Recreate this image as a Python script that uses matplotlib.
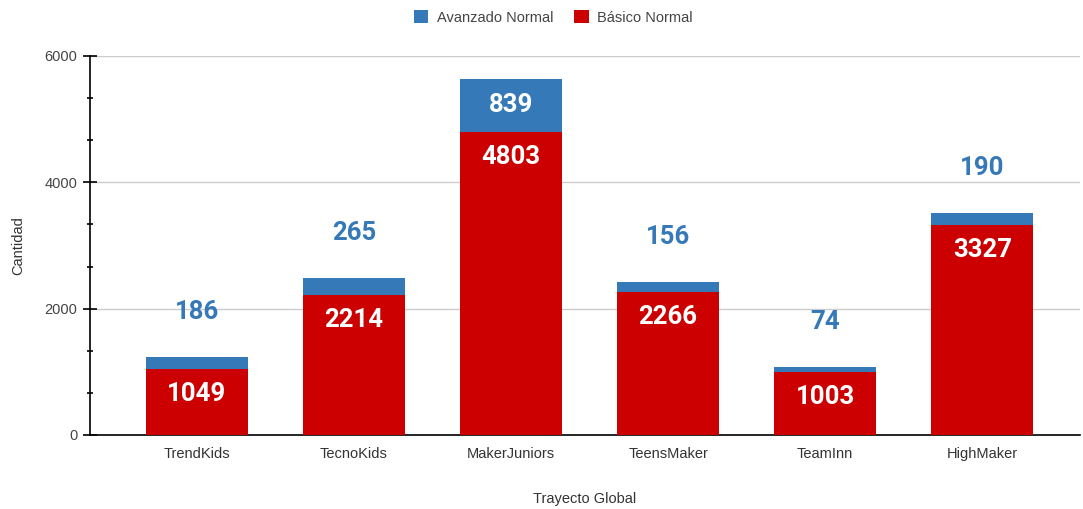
import matplotlib.pyplot as plt
import numpy as np
from matplotlib.ticker import MultipleLocator

categories = ['TrendKids', 'TecnoKids', 'MakerJuniors', 'TeensMaker', 'TeamInn', 'HighMaker']
basico = [1049, 2214, 4803, 2266, 1003, 3327]
avanzado = [186, 265, 839, 156, 74, 190]

blue = '#3579b8'
red = '#cc0000'

plt.rcParams['font.family'] = ['Liberation Sans', 'DejaVu Sans']

fig = plt.figure(figsize=(10.83, 5.09), dpi=100)
ax = fig.add_axes([0.083, 0.1454, 0.914, 0.7446])

x = np.arange(len(categories))
w = 0.65
ax.bar(x, basico, w, color=red, label='Básico Normal', zorder=3)
ax.bar(x, avanzado, w, bottom=basico, color=blue, label='Avanzado Normal', zorder=3)

# px -> data: 6000 units over ~379 px
px = 6000 / 379.0
for i in range(len(categories)):
    ax.text(x[i], basico[i] - 25 * px, str(basico[i]), ha='center', va='center',
            color='white', fontsize=18.5, fontweight='bold', family='Roboto', zorder=4)
    top = basico[i] + avanzado[i]
    if avanzado[i] * 1.0 / px > 35:
        ax.text(x[i], basico[i] + avanzado[i] / 2, str(avanzado[i]), ha='center', va='center',
                color='white', fontsize=18.5, fontweight='bold', family='Roboto', zorder=4)
    else:
        ax.text(x[i], top + 45 * px, str(avanzado[i]), ha='center', va='center',
                color=blue, fontsize=18.5, fontweight='bold', family='Roboto', zorder=4)

ax.set_xlim(-0.68, 5.62)
ax.set_ylim(0, 6000)
ax.set_xticks(x)
ax.set_xticklabels(categories, fontsize=10.5, color='#333333')
ax.set_yticks([0, 2000, 4000, 6000])
ax.yaxis.set_minor_locator(MultipleLocator(2000 / 3))
ax.tick_params(axis='y', which='major', direction='inout', length=10, width=1.2,
               labelsize=10.5, labelcolor='#444444', pad=4)
ax.tick_params(axis='y', which='minor', direction='inout', length=4.5, width=1.2)
ax.tick_params(axis='x', length=0, pad=9)
ax.grid(axis='y', color='#cccccc', linewidth=1, zorder=0)

for s in ['top', 'right']:
    ax.spines[s].set_visible(False)
ax.spines['left'].set_linewidth(1.2)
ax.spines['bottom'].set_linewidth(1.2)
ax.spines['left'].set_zorder(5)

ax.set_ylabel('Cantidad', fontsize=10.5, color='#333333', labelpad=14)
ax.set_xlabel('Trayecto Global', fontsize=10.5, color='#333333', labelpad=22)

h, l = ax.get_legend_handles_labels()
fig.legend(h[::-1], l[::-1], loc='center', bbox_to_anchor=(0.511, 0.966), ncol=2,
           frameon=False, fontsize=10.5, handlelength=1.0, handleheight=1.0,
           handletextpad=0.6, columnspacing=1.4, labelcolor='#444444')

fig.savefig('out.png', dpi=100)
